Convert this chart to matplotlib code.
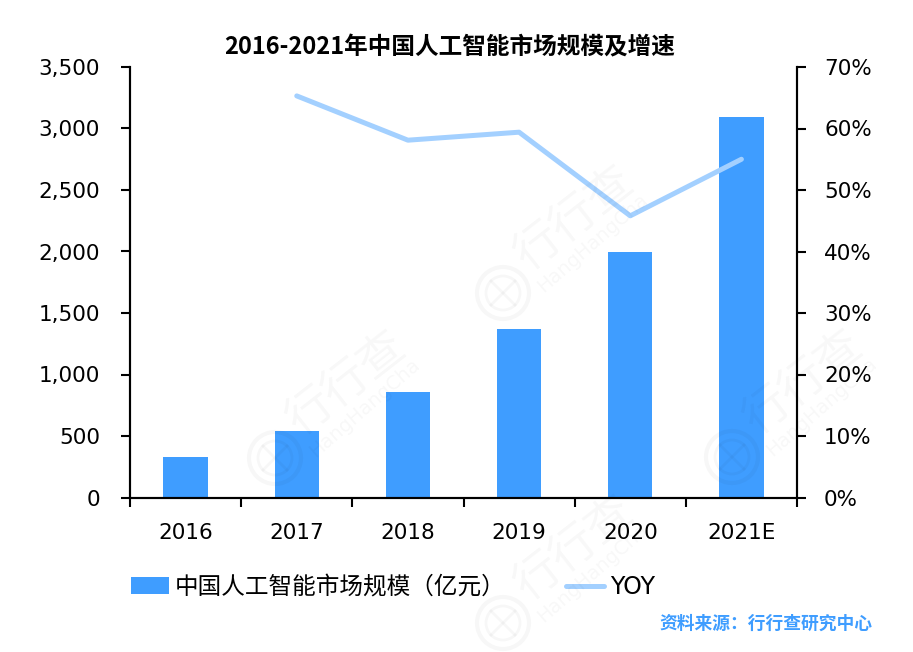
"""Bar and line chart of China's AI market size and growth, 2016-2021."""
import matplotlib
matplotlib.use('Agg')  # Use non-interactive backend for script execution
import matplotlib.pyplot as plt
from matplotlib.lines import Line2D
from matplotlib.patches import Circle

plt.rcParams['font.family'] = ['DejaVu Sans', 'Noto Sans CJK SC']
CJK_FIRST = ['Noto Sans CJK SC', 'DejaVu Sans']

YEARS = ["2016", "2017", "2018", "2019", "2020", "2021E"]
MARKET_SIZE = [329, 540, 858, 1370, 1996, 3094]
YOY_YEARS = ["2017", "2018", "2019", "2020", "2021E"]
YOY_PCT = [65.3, 58.1, 59.4, 45.8, 55.0]
LEFT_TICKS = [0, 500, 1000, 1500, 2000, 2500, 3000, 3500]
RIGHT_TICKS = [0, 10, 20, 30, 40, 50, 60, 70]
SEAL_CENTERS = [(503, 293), (275, 458), (732, 457), (503, 623)]

BAR_COLOR = "#3F9DFF"
LINE_COLOR = "#A3D0FF"
WM_ALPHA = 0.03
WIDTH, HEIGHT = 913, 652

fig = plt.figure(figsize=(WIDTH / 100, HEIGHT / 100), dpi=100)
ax = fig.add_axes([130 / WIDTH, 1 - 497.5 / HEIGHT, 667 / WIDTH, 430.5 / HEIGHT])

x = list(range(len(YEARS)))
ax.bar(x, MARKET_SIZE, width=0.4, color=BAR_COLOR, label="中国人工智能市场规模（亿元）")
ax.set_xlim(-0.5, 5.5)
ax.set_ylim(0, 3500)
ax.set_yticks(LEFT_TICKS)
ax.set_yticklabels([f"{v:,}" for v in LEFT_TICKS])
ax.set_xticks([i - 0.5 for i in range(len(YEARS) + 1)])
ax.set_xticklabels([])
for i, year in enumerate(YEARS):
    ax.annotate(year, (i, 0), xycoords=("data", "axes fraction"), xytext=(0, -25.5),
                textcoords="offset points", ha="center", va="center", fontsize=15.5)

ax2 = ax.twinx()
ax2.plot([YEARS.index(y) for y in YOY_YEARS], YOY_PCT, color=LINE_COLOR, linewidth=3.6,
         solid_capstyle="round", label="YOY")
ax2.set_ylim(0, 70)
ax2.set_yticks(RIGHT_TICKS)
ax2.set_yticklabels([f"{v}%" for v in RIGHT_TICKS])

for a in (ax, ax2):
    a.spines["top"].set_visible(False)
    for spine in a.spines.values():
        spine.set_linewidth(1.5)
    a.tick_params(axis="both", length=6.5, width=1.5, labelsize=15.5)
ax.tick_params(axis="y", pad=15)
ax2.tick_params(axis="y", pad=13)

fig.text(450 / WIDTH, 1 - 47.5 / HEIGHT, "2016-2021年中国人工智能市场规模及增速", fontsize=17,
         fontweight="bold", ha="center", va="center", family=CJK_FIRST)
fig.text(872 / WIDTH, 1 - 624 / HEIGHT, "资料来源：行行查研究中心", fontsize=12.8,
         fontweight="bold", color=BAR_COLOR, ha="right", va="center", family=CJK_FIRST)

handles = ax.get_legend_handles_labels()[0] + ax2.get_legend_handles_labels()[0]
labels = ax.get_legend_handles_labels()[1] + ax2.get_legend_handles_labels()[1]
fig.legend(handles, labels, loc="center left", bbox_to_anchor=(131 / WIDTH, 1 - 587 / HEIGHT),
           ncol=2, frameon=False, handlelength=1.6, handletextpad=0.25, columnspacing=2.57,
           borderpad=0, borderaxespad=0, prop={"family": ['DejaVu Sans', 'Noto Sans CJK SC'], "size": 17})

# Faint watermarks drawn over the chart, so they tint the bars too
for cx, cy in SEAL_CENTERS:
    fig.text((cx + 72) / WIDTH, 1 - (cy - 75) / HEIGHT, "行行查", fontsize=33, rotation=38,
             color="black", alpha=WM_ALPHA, ha="center", va="center", zorder=20, family=CJK_FIRST)
    fig.text((cx + 90) / WIDTH, 1 - (cy - 50) / HEIGHT, "HangHangCha", fontsize=14, rotation=41,
             color="black", alpha=WM_ALPHA, ha="center", va="center", zorder=20)
    for r, lw in [(26, 3), (17, 2)]:
        fig.add_artist(Circle((cx, HEIGHT - cy), r, transform=None, fill=False, edgecolor="black",
                              alpha=WM_ALPHA, linewidth=lw, zorder=20))
    for dx in (-12, 12):
        fig.add_artist(Line2D([cx - dx, cx + dx], [HEIGHT - cy - 12, HEIGHT - cy + 12], transform=None,
                              color="black", alpha=WM_ALPHA, linewidth=2, zorder=20))

fig.savefig("out.png", dpi=100)
